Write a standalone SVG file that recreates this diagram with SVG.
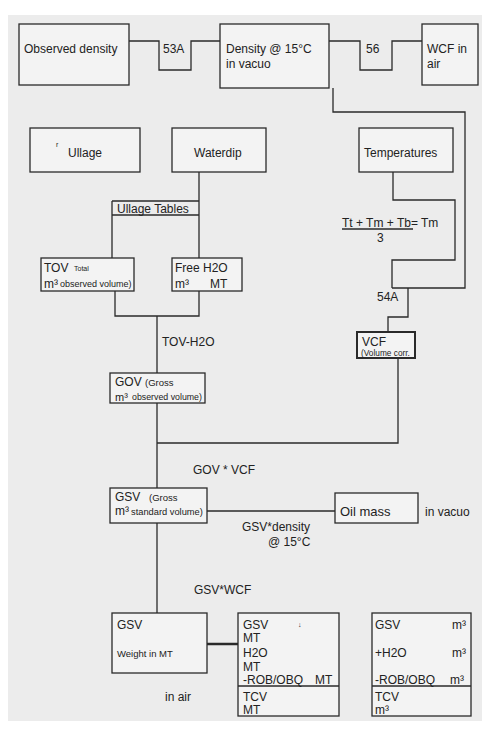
<svg xmlns="http://www.w3.org/2000/svg" width="487" height="740" viewBox="0 0 487 740">
<style>
  text { font-family: "Liberation Sans", Arial, sans-serif; fill: #222; font-size: 12px; }
  .s { font-size: 9.5px; }
  .xs { font-size: 7px; }
  .box { fill: #f3f3f3; stroke: #2a2a2a; stroke-width: 1.3; }
  .ln { fill: none; stroke: #2a2a2a; stroke-width: 1.3; }
</style>
<rect x="0" y="0" width="487" height="740" fill="#ffffff"/>
<rect x="8" y="15" width="474" height="706" fill="#ececec"/>

<g id="connectors">
  <path class="ln" d="M129,41 H159 V70 H191 V41 H220"/>
  <path class="ln" d="M329,41 H360 V70 H392 V41 H422"/>
  <path class="ln" d="M333,88 V112 H465 V288 H392"/>
  <path class="ln" d="M393,172 V200 H455 V260 H392 V288"/>
  <path class="ln" d="M408,288 V317 H388 V332"/>
  <path class="ln" d="M112,201 H199 M112,215 H199 M112,201 V258 M199,172 V258"/>
  <path class="ln" d="M115,291 V316 H199 V291 M157,316 V373"/>
  <path class="ln" d="M157,403 V488 M157,443 H398 V358"/>
  <path class="ln" d="M207,511 H335"/>
  <path class="ln" d="M157,523 V613"/>
  <path class="ln" d="M207,644 H238" style="stroke-width:2.5"/>
  <line class="ln" x1="342" y1="229" x2="413" y2="229"/>
</g>

<g id="labels">
  <text x="163" y="53">53A</text>
  <text x="366" y="53">56</text>
  <text x="117" y="213">Ullage Tables</text>
  <text x="342" y="227">Tt + Tm + Tb= Tm</text>
  <text x="377" y="242">3</text>
  <text x="377" y="301">54A</text>
  <text x="162" y="346">TOV-H2O</text>
  <text x="193" y="474">GOV * VCF</text>
  <text x="242" y="531">GSV*density</text>
  <text x="268" y="546">@  15°C</text>
  <text x="425" y="516">in vacuo</text>
  <text x="194" y="594">GSV*WCF</text>
  <text x="165" y="701">in air</text>
</g>

<g id="observed-density">
  <rect class="box" x="19" y="24" width="110" height="61"/>
  <text x="24" y="53">Observed density</text>
</g>
<g id="density-15">
  <rect class="box" x="220" y="24" width="109" height="64"/>
  <text x="226" y="53">Density @ 15°C</text>
  <text x="226" y="68">in vacuo</text>
</g>
<g id="wcf">
  <rect class="box" x="422" y="24" width="56" height="61"/>
  <text x="427" y="53">WCF in</text>
  <text x="427" y="68">air</text>
</g>
<g id="ullage">
  <rect class="box" x="30" y="128" width="110" height="44"/>
  <text class="xs" x="56" y="147">r</text>
  <text x="68" y="157">Ullage</text>
</g>
<g id="waterdip">
  <rect class="box" x="172" y="128" width="94" height="44"/>
  <text x="194" y="157">Waterdip</text>
</g>
<g id="temperatures">
  <rect class="box" x="359" y="128" width="94" height="44"/>
  <text x="364" y="157">Temperatures</text>
</g>
<g id="tov">
  <rect class="box" x="41" y="258" width="93" height="33"/>
  <text x="44" y="272">TOV</text>
  <text class="xs" x="74" y="271">Total</text>
  <text x="44" y="288">m³</text>
  <text class="s" x="60" y="287" style="font-size:9px">observed volume)</text>
</g>
<g id="free-h2o">
  <rect class="box" x="172" y="258" width="70" height="33"/>
  <text x="175" y="272">Free H2O</text>
  <text x="175" y="288">m³</text>
  <text x="210" y="288">MT</text>
</g>
<g id="vcf">
  <rect class="box" x="357" y="332" width="58" height="26" style="stroke-width:2"/>
  <text x="362" y="346">VCF</text>
  <text class="xs" x="361" y="356" style="font-size:8.3px">(Volume corr.</text>
</g>
<g id="gov">
  <rect class="box" x="110" y="373" width="95" height="30"/>
  <text x="115" y="386">GOV</text>
  <text class="s" x="145" y="386">(Gross</text>
  <text x="115" y="401" style="font-size:11px">m³</text>
  <text class="s" x="132" y="400" style="font-size:8.8px">observed volume)</text>
</g>
<g id="gsv">
  <rect class="box" x="110" y="488" width="97" height="35"/>
  <text x="115" y="501">GSV</text>
  <text class="s" x="149" y="501">(Gross</text>
  <text x="115" y="515">m³</text>
  <text class="s" x="131" y="515" style="font-size:9.3px">standard volume)</text>
</g>
<g id="oil-mass">
  <rect class="box" x="335" y="493" width="83" height="30"/>
  <text x="340" y="516" style="font-size:13px">Oil mass</text>
</g>
<g id="gsv-weight">
  <rect class="box" x="112" y="613" width="95" height="60"/>
  <text x="117" y="629">GSV</text>
  <text class="s" x="117" y="657">Weight in MT</text>
</g>
<g id="gsv-mt">
  <rect class="box" x="238" y="613" width="101" height="103"/>
  <line class="ln" x1="238" y1="686" x2="339" y2="686"/>
  <text x="243" y="629">GSV</text>
  <text class="xs" x="298" y="627">↓</text>
  <text x="243" y="642">MT</text>
  <text x="243" y="657">H2O</text>
  <text x="243" y="671">MT</text>
  <text x="243" y="684">-ROB/OBQ</text>
  <text x="315" y="684">MT</text>
  <text x="243" y="701">TCV</text>
  <text x="243" y="714">MT</text>
</g>
<g id="gsv-m3">
  <rect class="box" x="372" y="613" width="99" height="103"/>
  <line class="ln" x1="372" y1="686" x2="471" y2="686"/>
  <text x="375" y="629">GSV</text>
  <text x="452" y="629">m³</text>
  <text x="375" y="657">+H2O</text>
  <text x="452" y="657">m³</text>
  <text x="375" y="684">-ROB/OBQ</text>
  <text x="450" y="684">m³</text>
  <text x="375" y="701">TCV</text>
  <text x="375" y="714">m³</text>
</g>
</svg>
